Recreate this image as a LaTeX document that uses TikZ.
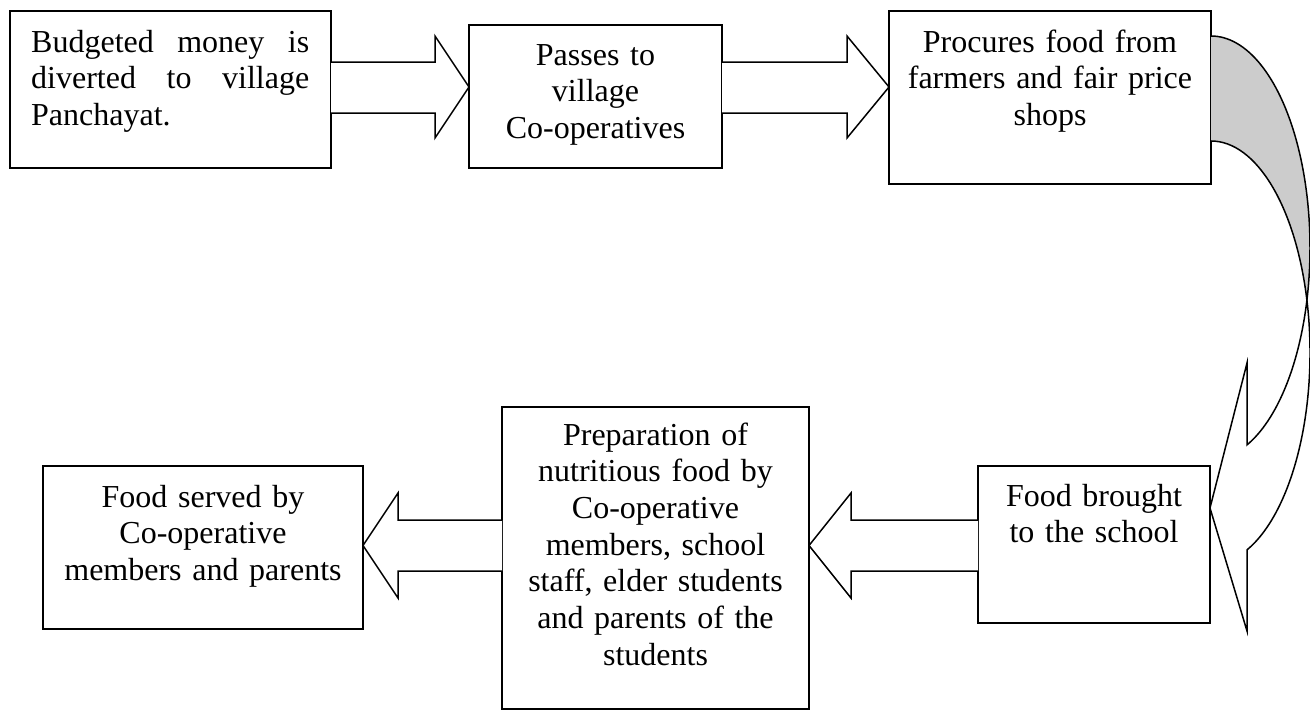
\documentclass[tikz,border=0pt]{standalone}
\usepackage{fontspec}
\setmainfont{Liberation Serif}

\begin{document}
\begin{tikzpicture}[
x=1pt, y=-1pt,
stage/.style={rectangle, draw=black, line width=2pt, inner sep=0pt, outer sep=0pt},
words/.style={inner sep=0pt, anchor=base, align=center, font=\fontsize{32}{36.7}\selectfont},
blockarrow/.style={draw=black, fill=white, line width=1.5pt, line join=miter},
]
\useasboundingbox (0,0) rectangle (1310,712);

% boxes
\node[stage, minimum width=321pt, minimum height=157pt] (B1) at (170.5,89.5) {};
\node[stage, minimum width=253pt, minimum height=143pt] (B2) at (595.5,96.5) {};
\node[stage, minimum width=322pt, minimum height=173pt] (B3) at (1050,97.5) {};
\node[stage, minimum width=232pt, minimum height=157pt] (B4) at (1094,544.5) {};
\node[stage, minimum width=307pt, minimum height=302pt] (B5) at (655.5,558) {};
\node[stage, minimum width=320pt, minimum height=163pt] (B6) at (203,547.5) {};

% texts
\node[words, text width=278pt, align=left, anchor=base west] (T1) at (31,52)
	{Budgeted\hfill money\hfill is\\diverted\hfill to\hfill village\\Panchayat.};
\node[words, text width=240pt] (T2) at (595.5,65) {Passes to\\village\\Co-operatives};
\node[words, text width=310pt] (T3) at (1050,52) {Procures food from\\farmers and fair price\\shops};
\node[words, text width=225pt] (T4) at (1094,506) {Food brought\\to the school};
\node[words, text width=300pt] (T5) at (655.5,445)
	{Preparation of\\nutritious food by\\Co-operative\\members, school\\staff, elder students\\and parents of the\\students};
\node[words, text width=310pt] (T6) at (203,507) {Food served by\\Co-operative\\members and parents};

% straight block arrows
\draw[blockarrow] (B1.east |- 0,62) -- (435,62) -- (435,36) -- (B2.west |- 0,87)
	-- (435,138) -- (435,113) -- (B1.east |- 0,113);
\draw[blockarrow] (B2.east |- 0,62) -- (847,62) -- (847,36) -- (B3.west |- 0,87)
	-- (847,138) -- (847,113) -- (B2.east |- 0,113);
\draw[blockarrow] (B4.west |- 0,520) -- (851,520) -- (851,493) -- (B5.east |- 0,545.5)
	-- (851,598) -- (851,571) -- (B4.west |- 0,571);
\draw[blockarrow] (B5.west |- 0,520) -- (398,520) -- (398,493) -- (B6.east |- 0,545.5)
	-- (398,598) -- (398,571) -- (B5.west |- 0,571);

% curved arrow
\coordinate (bend) at (1306.9,300.2);
\draw[blockarrow, fill=gray!40] (B3.east |- 0,36)
	arc[start angle=-90, end angle=14.36, x radius=99, y radius=211.7]
	arc[start angle=-14.36, end angle=-90, x radius=99, y radius=211.7];
\draw[blockarrow] (bend)
	arc[start angle=14.36, end angle=68.68, x radius=99, y radius=211.7]
	-- (1247,363) -- (B4.east |- 0,508) -- (1247,631) -- (1247,549.9)
	arc[start angle=68.68, end angle=-14.36, x radius=99, y radius=211.7] -- cycle;
\end{tikzpicture}
\end{document}
